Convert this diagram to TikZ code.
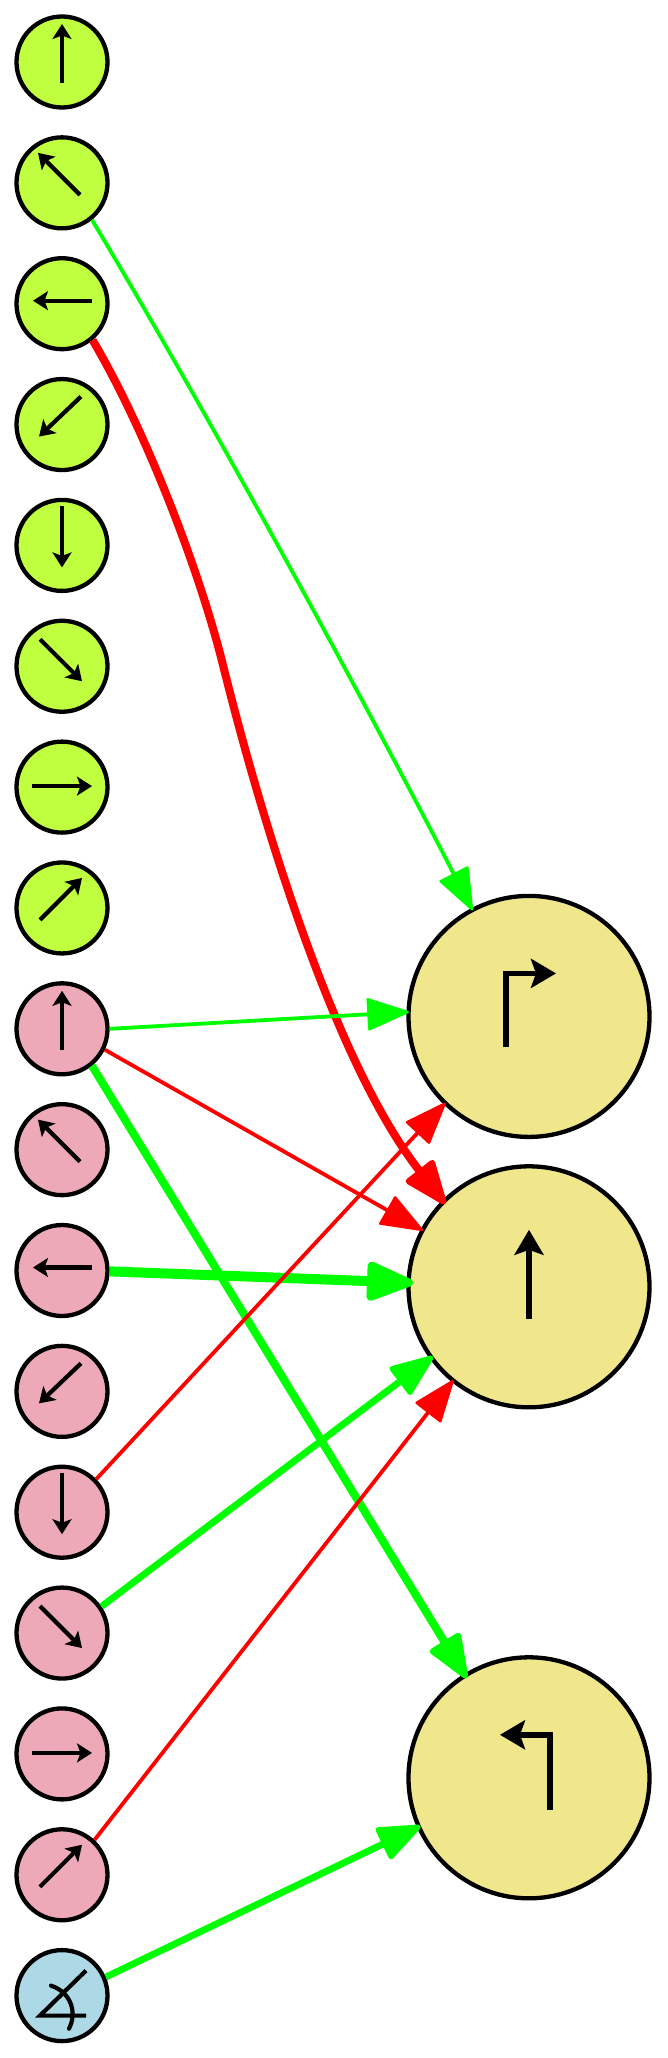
\documentclass[tikz,border=0pt]{standalone}
\usepackage{xcolor}
\definecolor{cLime}{HTML}{BFFF3F}
\definecolor{cPink}{HTML}{EEA9B8}
\definecolor{cSky}{HTML}{ADD8E6}
\definecolor{cKhaki}{HTML}{F0E68C}
\definecolor{cGo}{HTML}{00FF00}
\definecolor{cStop}{HTML}{FF0000}
\usetikzlibrary{positioning,arrows.meta}
\tikzset{
  node-small/.style={draw=black,line width=4.3pt,circle,minimum size=91pt,inner sep=0pt},
  node-big/.style={draw=black,line width=4.3pt,circle,minimum size=241pt,inner sep=0pt,fill=cKhaki},
  node-lime/.style={fill=cLime},
  node-pink/.style={fill=cPink},
  node-sky/.style={fill=cSky},
  glyph/.style={-{Stealth[length=15pt,width=19pt,inset=3.5pt]},line width=4.2pt,draw=black},
  glyph-big/.style={-{Stealth[length=25pt,width=29pt,inset=5pt]},line width=5.8pt,draw=black,miter limit=10},
  arrow-thin/.style={-{Triangle[length=44pt,width=33pt,round,line width=2.5pt]},line width=3.8pt,shorten >=-2.5pt},
  arrow-mid/.style={-{Triangle[length=47pt,width=36pt,round,line width=5pt]},line width=6.8pt,shorten >=-4pt},
  arrow-wide/.style={-{Triangle[length=49pt,width=37pt,round,line width=6pt]},line width=8pt,shorten >=-5pt},
  arrow-max/.style={-{Triangle[length=53pt,width=41pt,round,line width=8pt]},line width=10pt,shorten >=-6.5pt},
}
\begin{document}
\begin{tikzpicture}[x=1pt,y=-1pt,node distance=25.55pt]
  \useasboundingbox (0,0) rectangle (667,2058);
  \node[node-small,node-lime] (g0) at (62,62) {};
  \node[node-small,node-lime,below=of g0] (g1) {};
  \node[node-small,node-lime,below=of g1] (g2) {};
  \node[node-small,node-lime,below=of g2] (g3) {};
  \node[node-small,node-lime,below=of g3] (g4) {};
  \node[node-small,node-lime,below=of g4] (g5) {};
  \node[node-small,node-lime,below=of g5] (g6) {};
  \node[node-small,node-lime,below=of g6] (g7) {};
  \node[node-small,node-pink,below=of g7] (p0) {};
  \node[node-small,node-pink,below=of p0] (p1) {};
  \node[node-small,node-pink,below=of p1] (p2) {};
  \node[node-small,node-pink,below=of p2] (p3) {};
  \node[node-small,node-pink,below=of p3] (p4) {};
  \node[node-small,node-pink,below=of p4] (p5) {};
  \node[node-small,node-pink,below=of p5] (p6) {};
  \node[node-small,node-pink,below=of p6] (p7) {};
  \node[node-small,node-sky,below=of p7]  (ang) {};
  \node[node-big] (right) at (529,1016.4) {};
  \node[node-big,below=25.1pt of right] (ahead) {};
  \node[node-big,below=245.7pt of ahead] (left) {};
  % glyphs
  \draw[glyph,shift={(g0)}] (0,21) -- (0,-38);
  \draw[glyph,shift={(g1)}] (18,12) -- (-24,-30);
  \draw[glyph,shift={(g2)}] (30,-3) -- (-29,-3);
  \draw[glyph,shift={(g3)}] (19,-28) -- (-23,12);
  \draw[glyph,shift={(g4)}] (0,-39) -- (0,22);
  \draw[glyph,shift={(g5)}] (-22,-27) -- (20,15);
  \draw[glyph,shift={(g6)}] (-30,-1) -- (30,-1);
  \draw[glyph,shift={(g7)}] (-22,12) -- (20,-30);
  \draw[glyph,shift={(p0)}] (0,21) -- (0,-38);
  \draw[glyph,shift={(p1)}] (18,12) -- (-24,-30);
  \draw[glyph,shift={(p2)}] (30,-3) -- (-29,-3);
  \draw[glyph,shift={(p3)}] (19,-28) -- (-23,12);
  \draw[glyph,shift={(p4)}] (0,-39) -- (0,22);
  \draw[glyph,shift={(p5)}] (-22,-27) -- (20,15);
  \draw[glyph,shift={(p6)}] (-30,-1) -- (30,-1);
  \draw[glyph,shift={(p7)}] (-22,12) -- (20,-30);
  \draw[line width=4.2pt,shift={(ang)}] (24,-25) -- (-22,20) -- (24,20);
  \draw[line width=4.2pt,line cap=round,shift={(ang)}] (-11,-10) .. controls (10,-3) and (15,18) .. (7,33);
  \draw[glyph-big,shift={(right)}] (-23,31) -- (-23,-43) -- (27,-43);
  \draw[glyph-big,shift={(ahead)}] (0,32) -- (0,-57);
  \draw[glyph-big,shift={(left)}] (21,32) -- (21,-43) -- (-29,-43);
  % connectors
  \draw[arrow-thin,cGo] (g1.-51) .. controls (200,400) and (352,677) .. (right.118);
  \draw[arrow-wide,cStop] (g2.-50) .. controls (143,425) and (198,565) .. (223,665)
    .. controls (249,770) and (325,1050) .. (ahead.135);
  \draw[arrow-thin,cGo] (p0.0) -- (right.178);
  \draw[arrow-thin,cStop] (p0.-26) -- (ahead.152);
  \draw[arrow-wide,cGo] (p0.-51) -- (left.122);
  \draw[arrow-max,cGo] (p2.-1) -- (ahead.178);
  \draw[arrow-thin,cStop] (p4.44) -- (right.-134);
  \draw[arrow-mid,cGo] (p5.34) -- (ahead.-144);
  \draw[arrow-thin,cStop] (p7.47) -- (ahead.-129);
  \draw[arrow-mid,cGo] (ang.23) -- (left.-156);
\end{tikzpicture}
\end{document}
